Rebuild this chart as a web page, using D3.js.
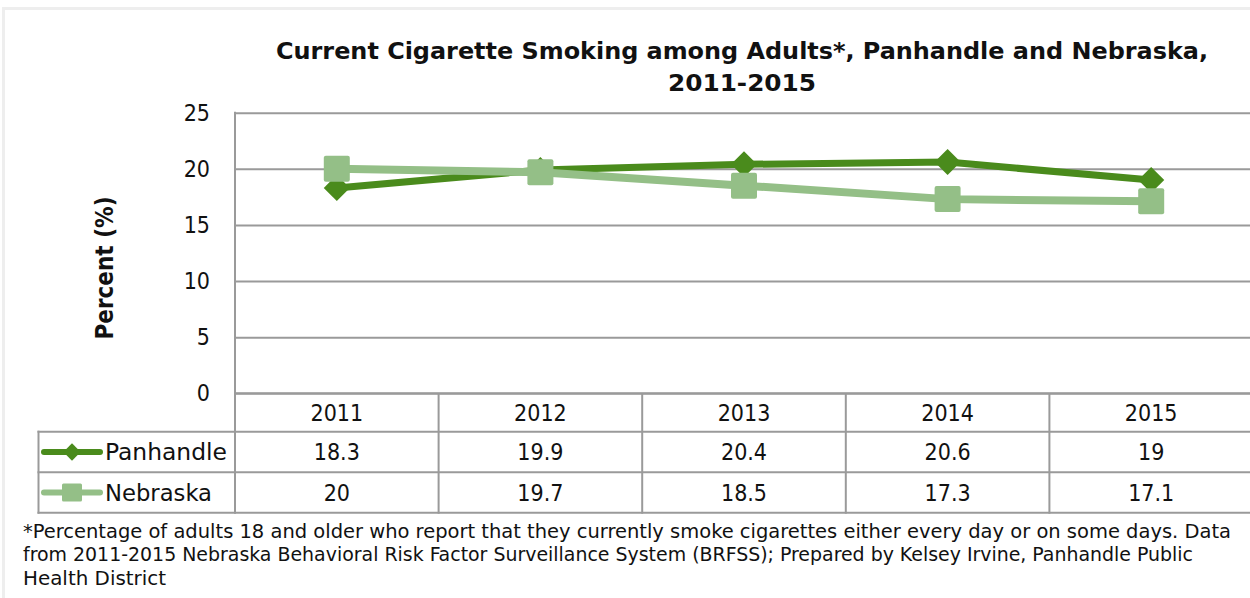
<!DOCTYPE html>
<html>
<head>
<meta charset="utf-8">
<script src="https://cdn.jsdelivr.net/npm/d3@7"></script>
<style>
  html, body { margin: 0; padding: 0; background: #fff; }
  svg { display: block; }
  text { font-family: "DejaVu Sans Condensed", "DejaVu Sans", sans-serif; fill: #111; }
</style>
</head>
<body>
<svg id="chart" width="1250" height="598"></svg>
<script>
// ---- data ----
const years = ["2011", "2012", "2013", "2014", "2015"];
const panhandle = [18.3, 19.9, 20.4, 20.6, 19];
const nebraska = [20, 19.7, 18.5, 17.3, 17.1];
const panhandleLabels = ["18.3", "19.9", "20.4", "20.6", "19"];
const nebraskaLabels = ["20", "19.7", "18.5", "17.3", "17.1"];
const yTicks = [0, 5, 10, 15, 20, 25];
const seriesNames = ["Panhandle", "Nebraska"];
const titleLines = ["Current Cigarette Smoking among Adults*, Panhandle and Nebraska,", "2011-2015"];
const yTitle = "Percent (%)";
const footLines = [
  "*Percentage of adults 18 and older who report that they currently smoke cigarettes either every day or on some days. Data",
  "from 2011-2015 Nebraska Behavioral Risk Factor Surveillance System (BRFSS); Prepared by Kelsey Irvine, Panhandle Public",
  "Health District"
];

(function () {
// ---- layout ----
const svg = d3.select("#chart");
const pLeft = 235, pRight = 1253, pTop = 112.7, pBottom = 393.3;
const rowH = [393.3, 431.7, 472.3, 512.7];
const keyLeft = 38.5;
const grid = "#9a9a9a";
const darkG = "#4a8b1c";
const lightG = "#94bf87";

const x = d3.scaleBand().domain(years).range([pLeft, pRight]).paddingInner(0).paddingOuter(0);
const y = d3.scaleLinear().domain([0, 25]).range([pBottom, pTop]);
const cx = d => x(d) + x.bandwidth() / 2;

// frame
svg.append("path")
  .attr("d", `M3.5,598 L3.5,8.5 L1250,8.5`)
  .attr("fill", "none").attr("stroke", "#eeeeee").attr("stroke-width", 3);

// title
svg.append("text").attr("x", 742).attr("y", 59).attr("text-anchor", "middle")
  .attr("font-weight", "bold").attr("font-size", 23.5)
  .attr("textLength", 932).attr("lengthAdjust", "spacingAndGlyphs")
  .text(titleLines[0]);
svg.append("text").attr("x", 742).attr("y", 91).attr("text-anchor", "middle")
  .attr("font-weight", "bold").attr("font-size", 23.5)
  .attr("textLength", 148).attr("lengthAdjust", "spacingAndGlyphs")
  .text(titleLines[1]);

// y axis with gridlines
const yAxis = d3.axisLeft(y).tickValues(yTicks).tickSize(-(pRight - pLeft)).tickPadding(25);
const gy = svg.append("g").attr("transform", `translate(${pLeft},0)`).call(yAxis);
gy.select(".domain").remove();
gy.selectAll(".tick line").attr("stroke", grid).attr("stroke-width", 2);
gy.selectAll(".tick text").attr("font-size", 23).attr("fill", "#111")
  .attr("font-family", "'DejaVu Sans Condensed', 'DejaVu Sans', sans-serif");

// y title
svg.append("text").attr("transform", `translate(105,268) rotate(-90)`)
  .attr("text-anchor", "middle").attr("dominant-baseline", "central")
  .attr("font-weight", "bold").attr("font-size", 24)
  .attr("textLength", 143).attr("lengthAdjust", "spacingAndGlyphs").text(yTitle);

// table lines
const tbl = svg.append("g").attr("stroke", grid).attr("stroke-width", 2).attr("fill", "none");
tbl.append("line").attr("x1", pLeft).attr("x2", pLeft).attr("y1", pTop - 1).attr("y2", rowH[3] + 1);
years.forEach((yr, i) => {
  if (i > 0) tbl.append("line").attr("x1", x(yr)).attr("x2", x(yr)).attr("y1", rowH[0]).attr("y2", rowH[3] + 1);
});
tbl.append("line").attr("x1", pLeft).attr("x2", 1250).attr("y1", rowH[0]).attr("y2", rowH[0]);
[1, 2, 3].forEach(i => {
  tbl.append("line").attr("x1", keyLeft - 1).attr("x2", 1250).attr("y1", rowH[i]).attr("y2", rowH[i]);
});
tbl.append("line").attr("x1", keyLeft).attr("x2", keyLeft).attr("y1", rowH[1] - 1).attr("y2", rowH[3] + 1);

// table text
const rowMid = i => (rowH[i] + rowH[i + 1]) / 2;
const tt = svg.append("g").attr("font-size", 23).attr("text-anchor", "middle");
years.forEach((yr, i) => {
  tt.append("text").attr("x", cx(yr)).attr("y", rowMid(0)).attr("dominant-baseline", "central").text(yr);
  tt.append("text").attr("x", cx(yr)).attr("y", rowMid(1)).attr("dominant-baseline", "central").text(panhandleLabels[i]);
  tt.append("text").attr("x", cx(yr)).attr("y", rowMid(2)).attr("dominant-baseline", "central").text(nebraskaLabels[i]);
});

// legend keys
const sq = d3.symbol().type(d3.symbolSquare);
const nameLen = [122, 107];
function key(row, color, name, isDiamond, len) {
  const yy = rowMid(row);
  svg.append("line").attr("x1", 44).attr("x2", 100).attr("y1", yy).attr("y2", yy)
    .attr("stroke", color).attr("stroke-width", 6).attr("stroke-linecap", "round");
  if (isDiamond) {
    svg.append("path").attr("d", sq.size(150)()).attr("fill", color)
      .attr("transform", `translate(72,${yy}) rotate(45)`);
  } else {
    svg.append("rect").attr("x", 62).attr("y", yy - 9).attr("width", 20).attr("height", 18)
      .attr("rx", 1.5).attr("fill", color);
  }
  svg.append("text").attr("x", 105).attr("y", yy).attr("dominant-baseline", "central")
    .attr("font-size", 23).attr("textLength", len).attr("lengthAdjust", "spacingAndGlyphs").text(name);
}
key(1, darkG, seriesNames[0], true, nameLen[0]);
key(2, lightG, seriesNames[1], false, nameLen[1]);

// series lines
const line = d3.line().x((d, i) => cx(years[i])).y(d => y(d));
svg.append("path").datum(panhandle).attr("d", line).attr("fill", "none")
  .attr("stroke", darkG).attr("stroke-width", 7).attr("stroke-linejoin", "round");
svg.selectAll(".pm").data(panhandle).enter().append("path").attr("class", "pm")
  .attr("d", sq.size(340)()).attr("fill", darkG)
  .attr("transform", (d, i) => `translate(${cx(years[i])},${y(d)}) rotate(45)`);

svg.append("path").datum(nebraska).attr("d", line).attr("fill", "none")
  .attr("stroke", lightG).attr("stroke-width", 8).attr("stroke-linejoin", "round");
svg.selectAll(".nm").data(nebraska).enter().append("rect").attr("class", "nm")
  .attr("x", (d, i) => cx(years[i]) - 13).attr("y", d => y(d) - 13)
  .attr("width", 26).attr("height", 26).attr("rx", 2).attr("fill", lightG);

// footnote
const fb = [538, 561, 584.5];
const fLen = [1208, 1170, 143];
footLines.forEach((t, i) => {
  svg.append("text").attr("x", 23).attr("y", fb[i]).attr("font-size", 19)
    .attr("font-family", "'DejaVu Sans', sans-serif")
    .attr("textLength", fLen[i]).attr("lengthAdjust", "spacingAndGlyphs").text(t);
});
})();
</script>
</body>
</html>
